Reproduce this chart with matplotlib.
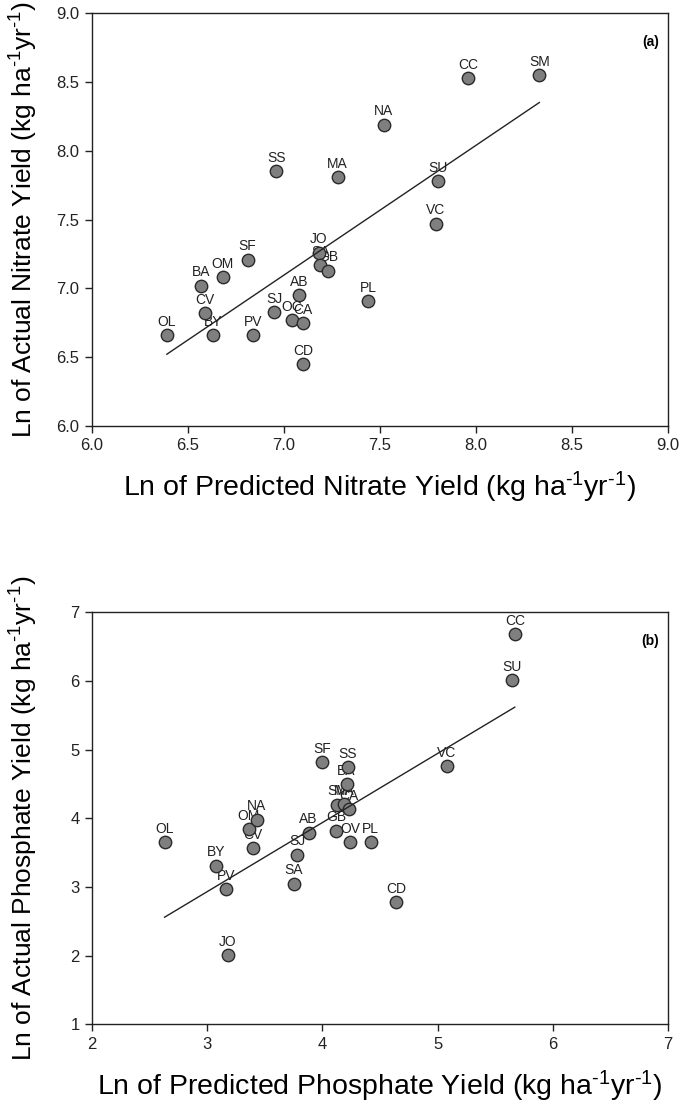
import matplotlib
matplotlib.use('Agg')
import numpy as np
import matplotlib.pyplot as plt

plt.rcParams['font.family'] = ['Liberation Sans', 'DejaVu Sans']
plt.rcParams['mathtext.fontset'] = 'custom'
plt.rcParams['mathtext.rm'] = 'Liberation Sans'
plt.rcParams['mathtext.it'] = 'Liberation Sans'

# nitrate: predicted vs actual (ln kg/ha/yr)
nit_sites = ['OL', 'BY', 'CV', 'BA', 'OM', 'SF', 'PV', 'SJ', 'OC', 'CA', 'CD', 'AB',
             'JO', 'SA', 'GB', 'PL', 'VC', 'SU', 'MA', 'SS', 'NA', 'CC', 'SM']
nit_pred = [6.39, 6.63, 6.59, 6.57, 6.68, 6.81, 6.84, 6.95, 7.04, 7.10, 7.10, 7.08,
            7.18, 7.19, 7.23, 7.44, 7.79, 7.80, 7.28, 6.96, 7.52, 7.96, 8.33]
nit_act = [6.66, 6.66, 6.82, 7.02, 7.08, 7.21, 6.66, 6.83, 6.77, 6.75, 6.45, 6.95,
           7.26, 7.17, 7.13, 6.91, 7.47, 7.78, 7.81, 7.85, 8.19, 8.53, 8.55]
nit_fit = (0.943, 0.496)

# phosphate: predicted vs actual
pho_sites = ['OL', 'BY', 'PV', 'JO', 'OM', 'NA', 'CV', 'SA', 'SJ', 'AB', 'GB', 'OV',
             'PL', 'CD', 'SF', 'SS', 'BA', 'SM', 'MA', 'CA', 'VC', 'SU', 'CC']
pho_pred = [2.63, 3.08, 3.16, 3.18, 3.36, 3.43, 3.40, 3.75, 3.78, 3.88, 4.12, 4.24,
            4.42, 4.64, 4.00, 4.22, 4.21, 4.13, 4.19, 4.23, 5.08, 5.65, 5.67]
pho_act = [3.65, 3.31, 2.97, 2.01, 3.84, 3.98, 3.57, 3.05, 3.47, 3.79, 3.82, 3.65,
           3.65, 2.78, 4.82, 4.74, 4.50, 4.20, 4.21, 4.13, 4.76, 6.01, 6.68]
pho_fit = (1.006, -0.086)

unit = r'(kg ha$^{\text{-1}}$yr$^{\text{-1}}$)'

fig = plt.figure(figsize=(6.8, 11.05), dpi=100)
ax1 = fig.add_axes([0.1353, 0.6145, 0.847, 0.3735])
ax2 = fig.add_axes([0.1353, 0.0730, 0.847, 0.3729])

narrow = ['Liberation Sans Narrow', 'Liberation Sans', 'DejaVu Sans']


def scatter_panel(ax, sites, xs, ys, fit, xlim, ylim, ticks_x, ticks_y, fmt, tag, xlab, ylab):
    ax.scatter(xs, ys, s=80, c='#7f7f7f', edgecolors='#2a2a2a', linewidths=1.0, zorder=3)
    for name, x, y in zip(sites, xs, ys):
        ax.annotate(name, (x, y), xytext=(0, 4.5), textcoords='offset points',
                    ha='center', va='bottom', fontsize=10, color='#222222', zorder=2)
    xx = np.array([min(xs), max(xs)])
    ax.plot(xx, fit[0] * xx + fit[1], color='#222222', lw=1.0, zorder=4)
    ax.set_xlim(*xlim)
    ax.set_ylim(*ylim)
    ax.set_xticks(ticks_x)
    ax.set_yticks(ticks_y)
    ax.set_xticklabels([fmt.format(t) for t in ticks_x], family=narrow)
    ax.set_yticklabels([fmt.format(t) for t in ticks_y], family=narrow)
    ax.tick_params(direction='out', length=5, width=1, labelsize=12, colors='#222222',
                   top=False, right=False, pad=4)
    for sp in ax.spines.values():
        sp.set_linewidth(1.0)
        sp.set_color('#222222')
    ax.text(0.985, 0.93, tag, transform=ax.transAxes, ha='right', va='center',
            fontsize=10, fontweight='bold', family=narrow)
    ax.set_xlabel(xlab, fontsize=20.5, labelpad=12)
    ax.set_ylabel(ylab, fontsize=19)
    ax.yaxis.set_label_coords(-0.09, 0.5)


scatter_panel(ax1, nit_sites, nit_pred, nit_act, nit_fit, (6, 9), (6, 9),
              [6.0, 6.5, 7.0, 7.5, 8.0, 8.5, 9.0], [6.0, 6.5, 7.0, 7.5, 8.0, 8.5, 9.0], '{:.1f}', '(a)',
              'Ln of Predicted Nitrate Yield ' + unit,
              'Ln of Actual Nitrate Yield ' + unit)
scatter_panel(ax2, pho_sites, pho_pred, pho_act, pho_fit, (2, 7), (1, 7),
              [2, 3, 4, 5, 6, 7], [1, 2, 3, 4, 5, 6, 7], '{:d}', '(b)',
              'Ln of Predicted Phosphate Yield ' + unit,
              'Ln of Actual Phosphate Yield ' + unit)

fig.savefig('out.png', dpi=100)
